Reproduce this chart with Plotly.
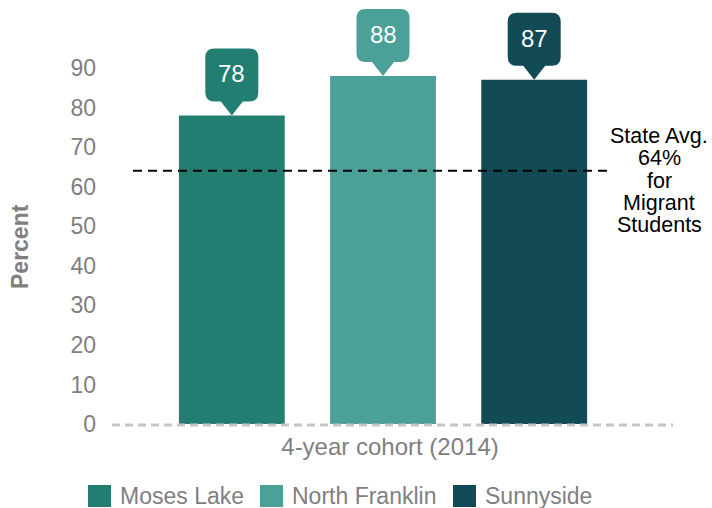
import plotly.graph_objects as go

categories = ["4-year cohort (2014)"]
series_names = ["Moses Lake", "North Franklin", "Sunnyside"]
series_values = [[78], [88], [87]]
series_colors = ["#237E72", "#4BA198", "#124A55"]
state_avg = 64
state_avg_lines = ["State Avg.", "64%", "for", "Migrant", "Students"]
y_ticks = [0, 10, 20, 30, 40, 50, 60, 70, 80, 90]
y_title = "Percent"

W, H = 712, 508
ML, MR, MT, MB = 112, 40, 0, 84
PW, PH = W - ML - MR, H - MT - MB
BARGAP = 0.19
BARGROUPGAP = 0.30
FONT = "Liberation Sans, Arial, sans-serif"
GRAY = "#7f7f7f"


def px_x(px):
    return (px - ML) / PW


def px_y(py):
    return (H - MB - py) / PH


fig = go.Figure()
for name, vals, col in zip(series_names, series_values, series_colors):
    fig.add_trace(go.Bar(x=categories, y=vals, name=name, marker_color=col,
                         marker_line_width=0, hoverinfo="skip", showlegend=False))

n = len(series_names)
slot = (1 - BARGAP) / n
shapes = []
annotations = []
for i, (vals, col) in enumerate(zip(series_values, series_colors)):
    xc = (i - (n - 1) / 2) * slot
    v = vals[0]
    w, h, th, tw, r = 26.5, 53, 14, 11, 9
    b = th
    t = th + h
    path = (f"M 0 0 L {-tw} {b} L {-w + r} {b} Q {-w} {b} {-w} {b + r} "
            f"L {-w} {t - r} Q {-w} {t} {-w + r} {t} L {w - r} {t} Q {w} {t} {w} {t - r} "
            f"L {w} {b + r} Q {w} {b} {w - r} {b} L {tw} {b} Z")
    shapes.append(dict(type="path", xref="x", yref="y", xsizemode="pixel", ysizemode="pixel",
                       xanchor=xc, yanchor=v, path=path, fillcolor=col,
                       line=dict(width=0), layer="above"))
    annotations.append(dict(x=xc, y=v, xref="x", yref="y", text=str(v), showarrow=False,
                            yshift=th + h / 2 + 1, font=dict(color="white", size=24, family=FONT)))

# state average dashed line
shapes.append(dict(type="line", xref="paper", yref="y", x0=px_x(133), x1=px_x(610),
                   y0=state_avg, y1=state_avg,
                   line=dict(color="black", width=2, dash="9px,6px"), layer="above"))
# dashed zero baseline (axis styling)
shapes.append(dict(type="line", xref="paper", yref="paper", x0=0, x1=px_x(673),
                   y0=px_y(425), y1=px_y(425),
                   line=dict(color="#c6c6c6", width=3, dash="8px,5px"), layer="above"))

# state average label (one annotation per line for tight spacing)
line_y = [136, 158, 181, 203, 225]
for txt, ly in zip(state_avg_lines, line_y):
    annotations.append(dict(x=px_x(659), y=px_y(ly), xref="paper", yref="paper",
                            xanchor="center", yanchor="middle", text=txt, showarrow=False,
                            borderpad=0, font=dict(color="black", size=21.5, family=FONT)))

# y-axis title
annotations.append(dict(x=px_x(20), y=px_y(247), xref="paper", yref="paper", text=f"<b>{y_title}</b>",
                        textangle=-90, showarrow=False, xanchor="center", yanchor="middle",
                        font=dict(size=23, color=GRAY, family=FONT)))

# manual legend
sw_x = [88, 260, 453]
for name, col, sx in zip(series_names, series_colors, sw_x):
    shapes.append(dict(type="rect", xref="paper", yref="paper",
                       x0=px_x(sx), x1=px_x(sx + 23), y0=px_y(507), y1=px_y(485),
                       fillcolor=col, line=dict(color=col, width=0)))
    annotations.append(dict(x=px_x(sx + 30), y=px_y(496), xref="paper", yref="paper",
                            xanchor="left", yanchor="middle", text=name, showarrow=False,
                            font=dict(size=23, color=GRAY, family=FONT)))

ymax = PH / ((424 - 68) / 90)
shift = (392 - 383) / PW

fig.update_layout(
    width=W, height=H,
    margin=dict(l=ML, r=MR, t=MT, b=MB, autoexpand=False),
    paper_bgcolor="white", plot_bgcolor="white",
    barmode="group", bargap=BARGAP, bargroupgap=BARGROUPGAP,
    font=dict(family=FONT, color=GRAY, size=23),
    shapes=shapes, annotations=annotations,
    showlegend=False,
    xaxis=dict(type="category", range=[-0.5 + shift, 0.5 + shift], showgrid=False,
               showline=False, zeroline=False, ticks="", automargin=False,
               ticklabelstandoff=6, ticklabelshift=7, tickfont=dict(size=24, color=GRAY)),
    yaxis=dict(range=[0, ymax], tickvals=y_ticks, showgrid=False, zeroline=False, showline=False,
               ticks="", automargin=False, ticklabelstandoff=15,
               tickfont=dict(size=23, color=GRAY)),
)

fig.write_html("out.html", config={"displayModeBar": False},
               post_script="document.body.style.margin='0';document.body.style.overflow='hidden';")
